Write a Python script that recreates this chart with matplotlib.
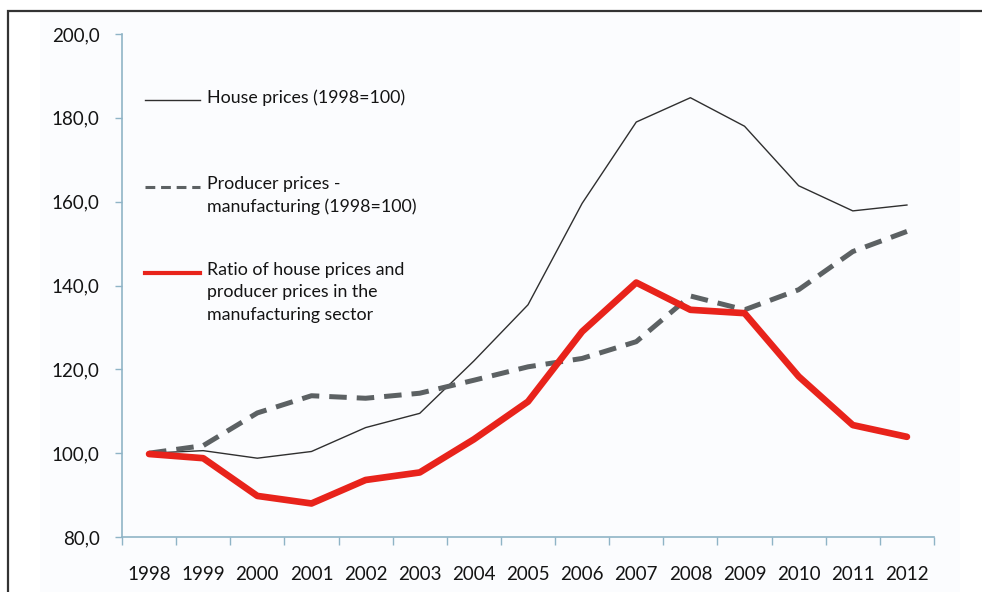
import numpy as np
import matplotlib
matplotlib.use("Agg")
import matplotlib.pyplot as plt
from matplotlib.lines import Line2D
from matplotlib.patches import Rectangle
from matplotlib.ticker import FuncFormatter, MultipleLocator

plt.rcParams['font.family'] = ['Lato', 'DejaVu Sans']

years = list(range(1998, 2013))
house = [100.0, 100.6, 98.8, 100.4, 106.1, 109.5, 122.0, 135.4, 159.6, 179.0,
         184.8, 178.0, 163.8, 157.8, 159.2]
producer = [100.0, 101.8, 109.6, 113.7, 113.1, 114.3, 117.4, 120.6, 122.6, 126.6,
            137.5, 134.2, 139.0, 148.1, 152.9]
ratio = [99.8, 98.8, 89.8, 88.0, 93.6, 95.4, 103.3, 112.3, 129.0, 140.7,
         134.2, 133.4, 118.3, 106.7, 103.9]

labels = ["House prices (1998=100)",
          "Producer prices -\nmanufacturing (1998=100)",
          "Ratio of house prices and\nproducer prices in the\nmanufacturing sector"]

axis_col = "#8fb4c6"
text_col = "#141414"
house_style = dict(color="#2f2f2f", lw=1.0)
prod_style = dict(color="#5c6163", lw=3.6, dashes=(3.5, 2.0))
ratio_style = dict(color="#e8231b", lw=4.8, solid_capstyle="round")
# legend samples are drawn thinner than the series
legend_styles = [dict(color="#2f2f2f", lw=1.0),
                 dict(color="#5c6163", lw=2.2, dashes=(3.2, 1.9)),
                 dict(color="#e8231b", lw=3.0)]

fig = plt.figure(figsize=(9.82, 5.92), dpi=100)
# frame and faint panel behind the chart
fig.patches.append(Rectangle((8 / 982, -0.1), 1.1, 1 - 11 / 592 + 0.1,
                             transform=fig.transFigure, fill=False,
                             edgecolor="#333333", lw=1.6, zorder=0))
fig.patches.append(Rectangle((40 / 982, -0.1), 920 / 982, 1 - 13 / 592 + 0.1,
                             transform=fig.transFigure, facecolor="#fbfcfe",
                             edgecolor="none", zorder=0))

ax = fig.add_axes([122 / 982, 55 / 592, 812 / 982, 503 / 592])
ax.set_zorder(3)
ax.set_facecolor("none")

ax.plot(years, house, **house_style)
ax.plot(years, producer, **prod_style)
ax.plot(years, ratio, **ratio_style)

ax.set_xlim(1997.5, 2012.5)
ax.set_ylim(80, 200)
ax.yaxis.set_major_locator(MultipleLocator(20))
ax.yaxis.set_major_formatter(FuncFormatter(lambda v, p: f"{v:.1f}".replace(".", ",")))
ax.set_xticks(years)
ax.set_xticklabels([str(y) for y in years])
ax.set_xticks(np.arange(1997.5, 2013, 1), minor=True)
ax.tick_params(axis="x", which="major", length=0, pad=21, labelsize=13.5, labelcolor=text_col)
ax.tick_params(axis="x", which="minor", length=6, color=axis_col, width=1)
ax.tick_params(axis="y", length=5, color=axis_col, width=1, labelsize=13.5,
               labelcolor=text_col, pad=11)
for s in ["top", "right"]:
    ax.spines[s].set_visible(False)
for s in ["left", "bottom"]:
    ax.spines[s].set_color(axis_col)
    ax.spines[s].set_linewidth(1.2)

# hand-placed legend as in the original
for st, text, ypx in zip(legend_styles, labels, [100, 187, 273]):
    yy = (537 - ypx) / 503
    x0, x1 = (145 - 122) / 812, (200 - 122) / 812
    ax.add_line(Line2D([x0, x1], [yy, yy], transform=ax.transAxes, **st))
    ax.text((207 - 122) / 812, yy + 11 / 503, text, transform=ax.transAxes,
            fontsize=12.8, va="top", ha="left", linespacing=1.5, color=text_col)

fig.savefig("out.png", dpi=100)
